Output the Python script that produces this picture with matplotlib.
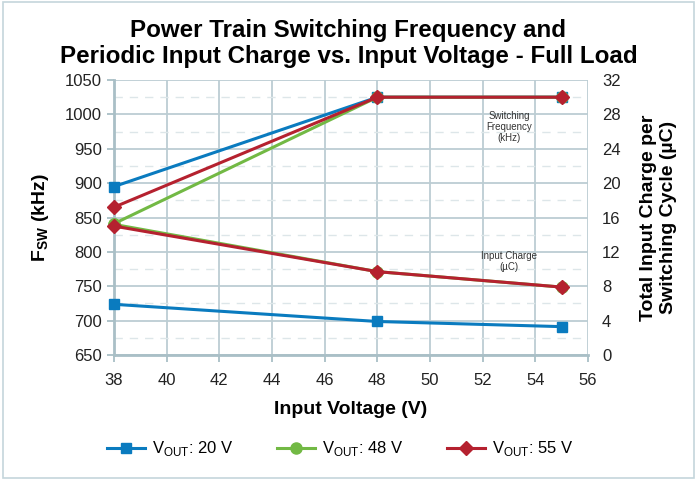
import matplotlib
matplotlib.use("Agg")
import matplotlib.pyplot as plt
from matplotlib.ticker import MultipleLocator
from matplotlib.patches import Rectangle

plt.rcParams['font.family'] = ['Liberation Sans', 'DejaVu Sans']

vin = [38, 48, 55]
series_labels = [r'V$_{\mathregular{OUT}}$: 20 V', r'V$_{\mathregular{OUT}}$: 48 V', r'V$_{\mathregular{OUT}}$: 55 V']
fsw_20 = [895, 1025, 1025]
fsw_48 = [841, 1025, 1025]
fsw_55 = [865, 1025, 1025]
q_20 = [5.9, 3.9, 3.3]
q_48 = [15.2, 9.7, 7.9]
q_55 = [15.0, 9.7, 7.9]

colors = ['#0a7bbf', '#72b944', '#b5212f']
markers = ['s', 'o', 'D']
msizes = [7, 8, 7]

fig = plt.figure(figsize=(6.97, 4.8), dpi=100)
fig.patches.append(Rectangle((0.004, 0.004), 0.992, 0.992, transform=fig.transFigure,
                             fill=False, edgecolor='#c5d6dc', linewidth=1.2))
ax = fig.add_axes([114/697, 1-355/480, (588-114)/697, (355-80)/480])
ax2 = ax.twinx()

gridc = '#bccdd3'
ax.set_xlim(38, 56)
ax.set_ylim(650, 1050)
ax2.set_ylim(0, 32)
ax.xaxis.set_major_locator(MultipleLocator(2))
ax.yaxis.set_major_locator(MultipleLocator(50))
ax.yaxis.set_minor_locator(MultipleLocator(25))
ax2.yaxis.set_major_locator(MultipleLocator(4))
ax.grid(which='major', color=gridc, linewidth=1.3)
ax.grid(which='minor', axis='y', color='#dde6e9', linewidth=1.0, linestyle=(0, (6, 5)))
ax.set_axisbelow(True)

for s in ['top', 'right']:
    ax.spines[s].set_visible(False)
for s in ['top', 'right', 'left', 'bottom']:
    ax2.spines[s].set_visible(False)
ax.spines['left'].set_color('#a9bfc6')
ax.spines['bottom'].set_color('#a9bfc6')
ax.spines['left'].set_linewidth(2)
ax.spines['bottom'].set_linewidth(2)
ax.tick_params(axis='both', which='major', length=5, width=1.3, color='#a9bfc6',
               labelsize=12, labelcolor='#222222')
ax.tick_params(axis='x', pad=8)
ax.tick_params(axis='y', which='minor', length=0)
ax2.tick_params(axis='y', length=0, labelsize=12, labelcolor='#222222', pad=10)

fsw = [fsw_20, fsw_48, fsw_55]
qs = [q_20, q_48, q_55]
handles = []
for i in range(3):
    h, = ax.plot(vin, fsw[i], color=colors[i], marker=markers[i], markersize=msizes[i],
                 linewidth=2.2, label=series_labels[i], zorder=3 + i, clip_on=False)
    handles.append(h)
for i in range(3):
    ax2.plot(vin, qs[i], color=colors[i], marker=markers[i], markersize=msizes[i],
             linewidth=2.2, zorder=3 + i, clip_on=False)

ax.set_xlabel('Input Voltage (V)', fontsize=14, fontweight='bold', labelpad=9)
ax.set_ylabel(r'F$_{\mathregular{SW}}$ (kHz)', fontsize=14, fontweight='bold', labelpad=10)
ax2.set_ylabel('Total Input Charge per\nSwitching Cycle (µC)', fontsize=14,
               fontweight='bold', labelpad=14)

ax.text(53.0, 1005, 'Switching\nFrequency\n(kHz)', fontsize=7, ha='center', va='top',
        color='#333333', linespacing=1.15)
ax2.text(53.0, 12.1, 'Input Charge\n(µC)', fontsize=7, ha='center', va='top',
         color='#333333', linespacing=1.15)

fig.text(0.5, 1-43.5/480, 'Power Train Switching Frequency and\nPeriodic Input Charge vs. Input Voltage - Full Load',
         ha='center', va='center', fontsize=17.4, fontweight='bold', linespacing=1.2)

fig.legend(handles=handles, loc='center', bbox_to_anchor=(340/697, 1-449/480), ncol=3,
           frameon=False, fontsize=12, handlelength=2.3, columnspacing=2.6, handletextpad=0.4)

fig.savefig('out.png', dpi=100)
